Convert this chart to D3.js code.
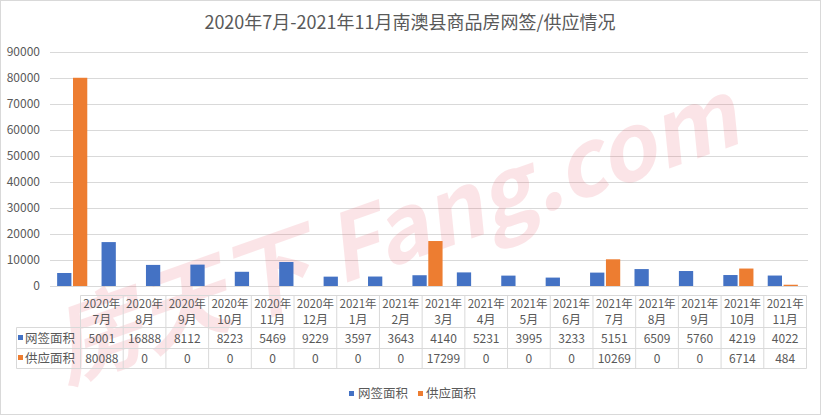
<!DOCTYPE html>
<html><head><meta charset="utf-8">
<script src="https://cdn.jsdelivr.net/npm/d3@7"></script>
<style>body{margin:0;background:#fff;font-family:"Microsoft YaHei","Noto Sans CJK SC",sans-serif;}</style>
</head><body><svg id="c" width="821" height="415"></svg>
<script>
const title = "2020年7月-2021年11月南澳县商品房网签/供应情况";
const years = ["2020年","2020年","2020年","2020年","2020年","2020年","2021年","2021年","2021年","2021年","2021年","2021年","2021年","2021年","2021年","2021年","2021年"];
const months = ["7月","8月","9月","10月","11月","12月","1月","2月","3月","4月","5月","6月","7月","8月","9月","10月","11月"];
const seriesNames = ["网签面积","供应面积"];
const signed = [5001,16888,8112,8223,5469,9229,3597,3643,4140,5231,3995,3233,5151,6509,5760,4219,4022];
const supply = [80088,0,0,0,0,0,0,0,17299,0,0,0,10269,0,0,6714,484];
const yTicks = [0,10000,20000,30000,40000,50000,60000,70000,80000,90000];
const colors = ["#4472C4","#ED7D31"];

const svg = d3.select("#c");
const font = '"Noto Sans CJK SC",sans-serif';
const txt = "#595959";
svg.append("rect").attr("x",0.5).attr("y",0.5).attr("width",820).attr("height",414).attr("fill","#fff").attr("stroke","#d9d9d9");

svg.append("text").attr("x",410).attr("y",29).attr("text-anchor","middle")
  .attr("font-family",font).attr("font-size",18).attr("fill",txt).text(title);

const idx = d3.range(signed.length);
const x = d3.scaleBand().domain(idx).range([50,805]);
const xs = d3.scaleBand().domain([0,1]).range([0,x.bandwidth()]).paddingInner(0.1).paddingOuter(0.45);
const y = d3.scaleLinear().domain([0,90000]).range([286,52]);

const gy = svg.append("g").attr("transform","translate(50,0)")
  .call(d3.axisLeft(y).tickValues(yTicks).tickSize(-758).tickFormat(d3.format("d")).tickPadding(10));
gy.select(".domain").remove();
gy.selectAll(".tick line").attr("stroke","#d9d9d9");
gy.selectAll(".tick text").attr("fill",txt).attr("font-family",font).attr("font-size",12)
  .attr("text-anchor","end").attr("x",-10);

// watermark (behind marks)
svg.append("text").attr("transform","translate(405,262) rotate(-19.5)").attr("text-anchor","middle")
  .attr("font-family",font).attr("font-weight","bold").attr("font-style","italic").attr("font-size",92)
  .attr("textLength",720).attr("lengthAdjust","spacingAndGlyphs")
  .attr("fill","#e8495a").attr("opacity",0.14).text("房天下 Fang.com");

const series = [signed, supply];
series.forEach((s,si)=>{
  svg.append("g").selectAll("rect").data(idx).join("rect")
    .attr("x",i=>x(i)+xs(si)).attr("width",xs.bandwidth())
    .attr("y",i=>y(s[i])).attr("height",i=>y(0)-y(s[i]))
    .attr("fill",colors[si]);
});

// data table
const tx = d3.scaleBand().domain(idx).range([80.5,806.5]);
const tLeft = 16.5, r0 = 295.5, r1 = 327.5, r2 = 348.5, r3 = 368.5;
const tg = svg.append("g");
const bc = "#d9d9d9";
tg.append("line").attr("x1",80.5).attr("x2",806.5).attr("y1",r0).attr("y2",r0).attr("stroke",bc);
[r1,r2,r3].forEach(r=>tg.append("line").attr("x1",tLeft).attr("x2",806.5).attr("y1",r).attr("y2",r).attr("stroke",bc));
tg.append("line").attr("x1",tLeft).attr("x2",tLeft).attr("y1",r1).attr("y2",r3).attr("stroke",bc);
idx.forEach(i=>tg.append("line").attr("x1",tx(i)).attr("x2",tx(i)).attr("y1",r0).attr("y2",r3).attr("stroke",bc));
tg.append("line").attr("x1",806.5).attr("x2",806.5).attr("y1",r0).attr("y2",r3).attr("stroke",bc);
const cx = i=>tx(i)+tx.bandwidth()/2;
const tt = (xx,yy,t,anchor,fs)=>tg.append("text").attr("x",xx).attr("y",yy).attr("text-anchor",anchor||"middle")
  .attr("font-family",font).attr("font-size",fs||12).attr("fill",txt).text(t);
idx.forEach(i=>{
  tt(cx(i),308,years[i],"middle",11.5); tt(cx(i),324,months[i]);
  tt(cx(i),343,signed[i]); tt(cx(i),363,supply[i]);
});
seriesNames.forEach((n,si)=>{
  const yy = si===0?343:363;
  tg.append("rect").attr("x",18).attr("y",yy-8).attr("width",5).attr("height",5).attr("fill",colors[si]);
  tt(25,yy,n,"start",12.5);
});

// legend
const lg = svg.append("g");
[[349,358],[418,426]].forEach((p,si)=>{
  lg.append("rect").attr("x",p[0]).attr("y",391).attr("width",5).attr("height",5).attr("fill",colors[si]);
  lg.append("text").attr("x",p[1]).attr("y",398).attr("font-family",font).attr("font-size",12.5).attr("fill",txt).text(seriesNames[si]);
});
</script></body></html>
